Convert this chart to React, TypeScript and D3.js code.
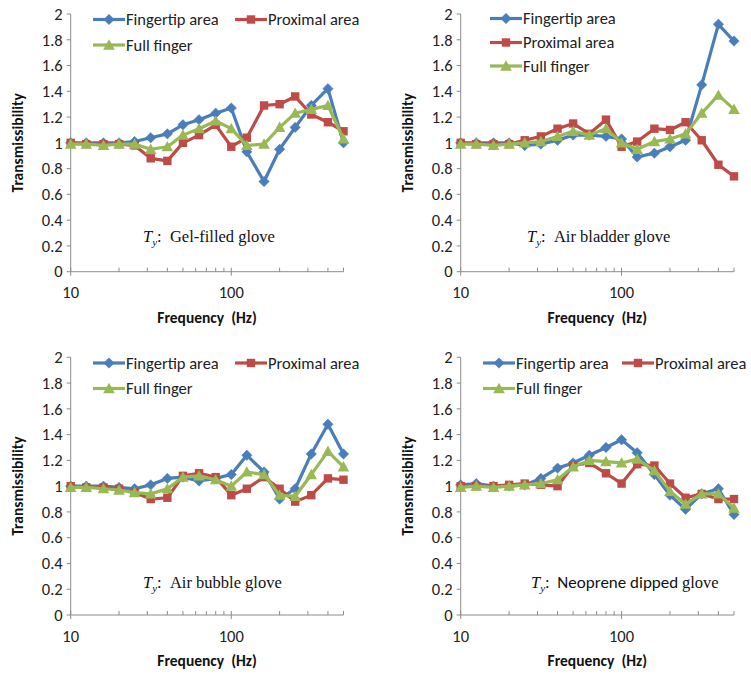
import React from "react";
import * as d3 from "d3";

const freqs = [10, 12.5, 16, 20, 25, 31.5, 40, 50, 63, 80, 100, 125, 160, 200, 250, 315, 400, 500];
const seriesNames = ["Fingertip area", "Proximal area", "Full finger"];
const yTicks = [0, 0.2, 0.4, 0.6, 0.8, 1, 1.2, 1.4, 1.6, 1.8, 2];
const xTickLabels = [10, 100];
const gloveNames = ["Gel-filled glove", "Air bladder glove", "Air bubble glove", "Neoprene dipped glove"];

const gelFingertip = [1.0, 1.0, 1.0, 1.0, 1.01, 1.04, 1.07, 1.14, 1.18, 1.23, 1.27, 0.93, 0.70, 0.95, 1.12, 1.29, 1.42, 1.0];
const gelProximal = [1.0, 0.99, 0.99, 0.99, 0.98, 0.88, 0.86, 1.0, 1.06, 1.14, 0.97, 1.04, 1.29, 1.30, 1.36, 1.22, 1.16, 1.09];
const gelFull = [0.99, 0.99, 0.98, 0.99, 0.99, 0.95, 0.97, 1.06, 1.11, 1.17, 1.11, 0.98, 0.99, 1.12, 1.23, 1.26, 1.29, 1.03];

const bladderFingertip = [1.0, 1.0, 1.0, 1.0, 0.98, 0.99, 1.02, 1.06, 1.06, 1.05, 1.03, 0.89, 0.92, 0.97, 1.02, 1.45, 1.92, 1.79];
const bladderProximal = [1.0, 0.99, 0.99, 0.99, 1.02, 1.05, 1.11, 1.15, 1.07, 1.18, 0.97, 1.01, 1.11, 1.10, 1.16, 1.02, 0.83, 0.74];
const bladderFull = [0.99, 0.99, 0.98, 0.99, 1.0, 1.01, 1.05, 1.09, 1.06, 1.11, 1.0, 0.95, 1.01, 1.03, 1.07, 1.23, 1.37, 1.26];

const bubbleFingertip = [1.0, 1.0, 1.0, 0.99, 0.98, 1.01, 1.06, 1.07, 1.04, 1.06, 1.09, 1.24, 1.11, 0.90, 0.98, 1.25, 1.48, 1.25];
const bubbleProximal = [1.0, 0.99, 0.99, 0.98, 0.95, 0.90, 0.91, 1.08, 1.10, 1.07, 0.93, 0.98, 1.07, 0.98, 0.88, 0.93, 1.06, 1.05];
const bubbleFull = [0.99, 0.99, 0.98, 0.97, 0.95, 0.94, 0.98, 1.07, 1.08, 1.05, 1.0, 1.11, 1.09, 0.93, 0.92, 1.09, 1.27, 1.15];

const neoFingertip = [1.01, 1.02, 1.0, 1.0, 1.01, 1.06, 1.14, 1.18, 1.24, 1.30, 1.36, 1.26, 1.09, 0.93, 0.82, 0.94, 0.98, 0.78];
const neoProximal = [1.0, 1.0, 1.0, 1.01, 1.02, 1.01, 1.0, 1.16, 1.18, 1.10, 1.02, 1.17, 1.16, 1.02, 0.91, 0.94, 0.90, 0.90];
const neoFull = [0.99, 1.0, 0.99, 1.0, 1.01, 1.02, 1.05, 1.15, 1.20, 1.19, 1.18, 1.21, 1.12, 0.96, 0.86, 0.94, 0.94, 0.83];

const COLORS = ["#4A7EBB", "#BE4B48", "#98B954"];
const SANS = "Carlito, Calibri, 'Open Sans', 'Noto Sans', sans-serif";
const SERIF = "'Liberation Serif', 'Times New Roman', serif";

type PanelCfg = {
  left: number; right: number; top: number; bottom: number;
  data: number[][];
  glove: number;
  legend: { x: number; y: number }[];
  note: { x: number; y: number };
  sansGlove?: boolean;
};

const panels: PanelCfg[] = [
  {
    left: 70.7, right: 343.5, top: 14, bottom: 271.7,
    data: [gelFingertip, gelProximal, gelFull], glove: 0,
    legend: [{ x: 93, y: 19.5 }, { x: 235, y: 19.5 }, { x: 93, y: 45 }],
    note: { x: 143, y: 242 },
  },
  {
    left: 460.7, right: 734, top: 14, bottom: 271.7,
    data: [bladderFingertip, bladderProximal, bladderFull], glove: 1,
    legend: [{ x: 490, y: 18.5 }, { x: 490, y: 42.5 }, { x: 490, y: 66 }],
    note: { x: 527, y: 242 },
  },
  {
    left: 70.7, right: 343.5, top: 357.3, bottom: 615,
    data: [bubbleFingertip, bubbleProximal, bubbleFull], glove: 2,
    legend: [{ x: 93, y: 363 }, { x: 235, y: 363 }, { x: 93, y: 388.5 }],
    note: { x: 143, y: 588 },
  },
  {
    left: 460.7, right: 734, top: 357.3, bottom: 615,
    data: [neoFingertip, neoProximal, neoFull], glove: 3,
    legend: [{ x: 483, y: 363 }, { x: 622, y: 363 }, { x: 483, y: 388.5 }],
    note: { x: 531, y: 588 },
    sansGlove: true,
  },
];

function Marker({ type, x, y }: { type: number; x: number; y: number }) {
  const c = COLORS[type];
  if (type === 0) {
    const s = 5.2;
    return <path d={`M${x},${y - s}L${x + s},${y}L${x},${y + s}L${x - s},${y}Z`} fill={c} stroke={c} strokeWidth={0.5} />;
  }
  if (type === 1) {
    const s = 4.2;
    return <rect x={x - s} y={y - s} width={2 * s} height={2 * s} fill={c} />;
  }
  const s = 5.8;
  return <path d={`M${x},${y - s}L${x + s},${y + s * 0.8}L${x - s},${y + s * 0.8}Z`} fill={c} />;
}

function Panel({ cfg }: { cfg: PanelCfg }) {
  const x = d3.scaleLog().domain([10, 500]).range([cfg.left, cfg.right]);
  const y = d3.scaleLinear().domain([0, 2]).range([cfg.bottom, cfg.top]);
  const line = d3.line<number>().x((_, i) => x(freqs[i])).y((v) => y(v));
  const minorTicks = [20, 30, 40, 50, 60, 70, 80, 90, 200, 300, 400, 500];
  const axisColor = "#8c8c8c";
  const cx = (cfg.left + cfg.right) / 2;
  const cy = (cfg.top + cfg.bottom) / 2;
  return (
    <g>
      <line x1={cfg.left} x2={cfg.left} y1={cfg.top} y2={cfg.bottom} stroke={axisColor} strokeWidth={1} />
      <line x1={cfg.left} x2={cfg.right} y1={cfg.bottom} y2={cfg.bottom} stroke={axisColor} strokeWidth={1} />
      {yTicks.map((t) => (
        <g key={t}>
          <line x1={cfg.left - 4} x2={cfg.left} y1={y(t)} y2={y(t)} stroke={axisColor} />
          <text x={cfg.left - 8} y={y(t)} dy="0.35em" textAnchor="end" fontFamily={SANS} fontSize={16.5} fill="#222">
            {String(+t.toFixed(1))}
          </text>
        </g>
      ))}
      {minorTicks.map((t) => (
        <line key={t} x1={x(t)} x2={x(t)} y1={cfg.bottom - 4} y2={cfg.bottom} stroke={axisColor} />
      ))}
      {xTickLabels.map((t) => (
        <g key={t}>
          <line x1={x(t)} x2={x(t)} y1={cfg.bottom - 4} y2={cfg.bottom + 4} stroke={axisColor} />
          <text x={x(t)} y={cfg.bottom + 21} dy="0.35em" textAnchor="middle" fontFamily={SANS} fontSize={16.5} fill="#222">
            {t}
          </text>
        </g>
      ))}
      <text x={cx} y={cfg.bottom + 46} dy="0.35em" textAnchor="middle" fontFamily={SANS} fontSize={15.5} fontWeight="bold" fill="#111">
        {"Frequency\u00a0\u00a0(Hz)"}
      </text>
      <text
        transform={`translate(${cfg.left - 53},${cy}) rotate(-90)`}
        textAnchor="middle" dy="0.35em" fontFamily={SANS} fontSize={15.5} fontWeight="bold" fill="#111"
      >
        Transmissibility
      </text>
      <text x={cfg.note.x} y={cfg.note.y} fontFamily={SERIF} fontSize={16.5} fill="#111">
        <tspan fontStyle="italic">T</tspan>
        <tspan fontStyle="italic" fontSize={11} dy={4}>y</tspan>
        <tspan dy={-4}>:</tspan>
        {cfg.sansGlove ? (
          <>
            <tspan fontFamily={SANS} fontSize={17}>{"\u00a0\u00a0Neoprene dipped "}</tspan>
            <tspan>glove</tspan>
          </>
        ) : (
          <tspan>{"\u00a0\u00a0" + gloveNames[cfg.glove]}</tspan>
        )}
      </text>
      {cfg.data.map((vals, si) => (
        <g key={si}>
          <path d={line(vals) || ""} fill="none" stroke={COLORS[si]} strokeWidth={3.2} strokeLinejoin="round" />
          {vals.map((v, i) => (
            <Marker key={i} type={si} x={x(freqs[i])} y={y(v)} />
          ))}
        </g>
      ))}
      {seriesNames.map((name, si) => {
        const L = cfg.legend[si];
        return (
          <g key={name}>
            <line x1={L.x} x2={L.x + 32} y1={L.y} y2={L.y} stroke={COLORS[si]} strokeWidth={3.2} />
            <Marker type={si} x={L.x + 16} y={L.y} />
            <text x={L.x + 33} y={L.y} dy="0.35em" fontFamily={SANS} fontSize={16.5} fill="#222">
              {name}
            </text>
          </g>
        );
      })}
    </g>
  );
}

export default function App() {
  return (
    <svg width={751} height={680} style={{ position: "absolute", left: 0, top: 0, background: "#fff" }}>
      <rect width={751} height={680} fill="#fff" />
      {panels.map((p, i) => (
        <Panel key={i} cfg={p} />
      ))}
    </svg>
  );
}
